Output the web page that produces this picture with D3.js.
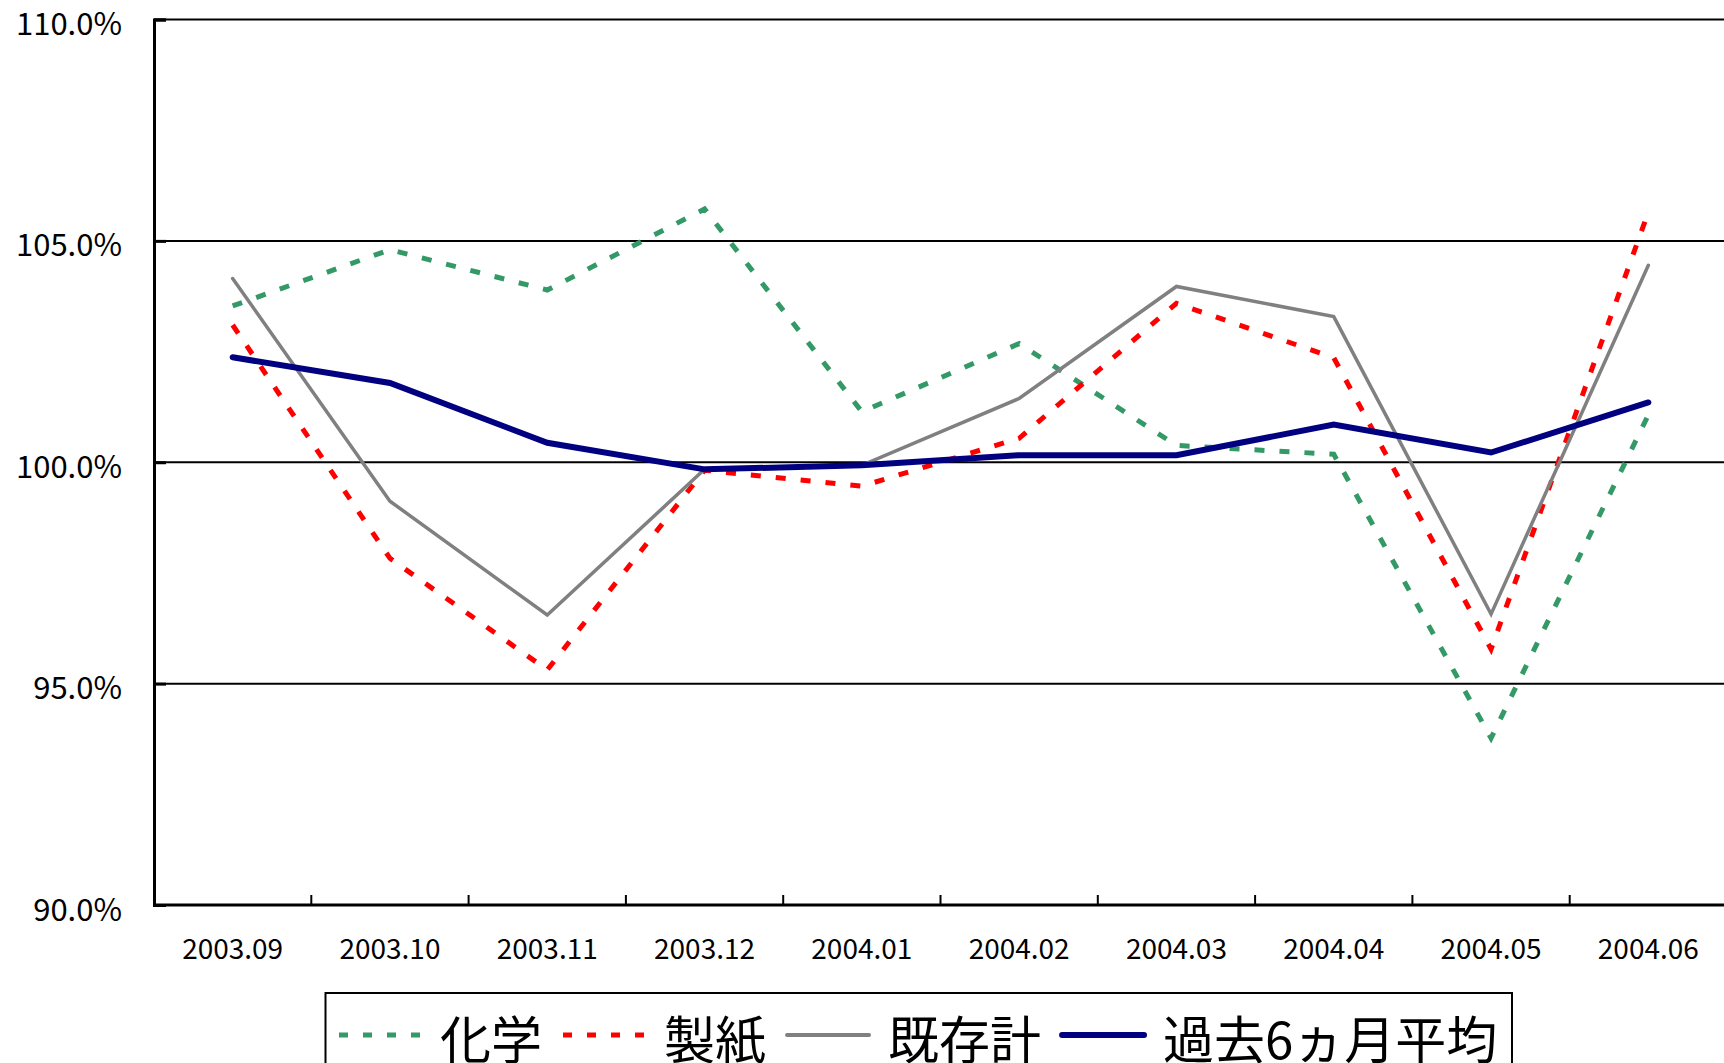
<!DOCTYPE html>
<html>
<head>
<meta charset="utf-8">
<script src="https://cdn.jsdelivr.net/npm/d3@7"></script>
<style>
  html, body { margin: 0; padding: 0; background: #fff; overflow: hidden; }
  svg { display: block; }
  text { font-family: "Noto Sans CJK JP", "Noto Sans", sans-serif; fill: #000; }
</style>
</head>
<body>
<script>
const categories = ["2003.09","2003.10","2003.11","2003.12","2004.01","2004.02","2004.03","2004.04","2004.05","2004.06"];
const chemical = [103.53, 104.80, 103.89, 105.72, 101.14, 102.68, 100.38, 100.18, 93.77, 101.07];
const paper    = [103.10, 97.83, 95.31, 99.82, 99.46, 100.54, 103.59, 102.36, 95.78, 105.65];
const existing = [104.15, 99.12, 96.55, 99.84, 99.93, 101.44, 103.97, 103.29, 96.57, 104.45];
const avg6     = [102.37, 101.79, 100.44, 99.84, 99.93, 100.16, 100.16, 100.85, 100.22, 101.35];
const yTicks = [90, 95, 100, 105, 110];
const seriesNames = ["化学", "製紙", "既存計", "過去6ヵ月平均"];

(function () {
const W = 1724, H = 1063;
const svg = d3.select("body").append("svg").attr("width", W).attr("height", H);

const pLeft = 154, pRight = 1727, pTop = 19.5, pBottom = 905;
const x = d3.scaleBand().domain(categories).range([pLeft, pRight]).padding(0);
const y = d3.scaleLinear().domain([90, 110]).range([pBottom, pTop]);
const cx = c => x(c) + x.bandwidth() / 2;

// gridlines
svg.append("g").selectAll("line").data(yTicks.filter(t => t > 90)).join("line")
  .attr("x1", pLeft).attr("x2", W + 10)
  .attr("y1", d => y(d)).attr("y2", d => y(d))
  .attr("stroke", "#000").attr("stroke-width", 2);

// left axis
const yAxis = d3.axisRight(y).tickValues(yTicks).tickSize(12).tickFormat("");
const gy = svg.append("g").attr("transform", `translate(${pLeft},0)`).call(yAxis);
gy.select(".domain").attr("stroke", "#000").attr("stroke-width", 3);
gy.selectAll(".tick line").attr("stroke", "#000").attr("stroke-width", 3);

// y labels
svg.append("g").selectAll("text").data(yTicks).join("text")
  .attr("x", 122).attr("y", d => y(d) + 2)
  .attr("text-anchor", "end").attr("dominant-baseline", "central")
  .style("font-size", "31px")
  .text(d => d.toFixed(1) + "%");

// bottom axis
const bounds = categories.slice(1).map(c => x(c));
svg.append("line").attr("x1", pLeft).attr("x2", W + 10).attr("y1", pBottom).attr("y2", pBottom)
  .attr("stroke", "#000").attr("stroke-width", 3);
svg.append("g").selectAll("line").data(bounds).join("line")
  .attr("x1", d => d).attr("x2", d => d)
  .attr("y1", pBottom).attr("y2", pBottom - 10)
  .attr("stroke", "#000").attr("stroke-width", 2);

svg.append("g").selectAll("text").data(categories).join("text")
  .attr("x", d => cx(d)).attr("y", 947)
  .attr("text-anchor", "middle").attr("dominant-baseline", "central")
  .style("font-size", "28px")
  .text(d => d);

// series
const series = [
  { name: seriesNames[0], values: chemical, color: "#339966", width: 5, dash: "10,15" },
  { name: seriesNames[1], values: paper,    color: "#FF0000", width: 5, dash: "10,15" },
  { name: seriesNames[2], values: existing, color: "#808080", width: 3.5, dash: null },
  { name: seriesNames[3], values: avg6,     color: "#000080", width: 6, dash: null }
];

const line = d3.line().x((d, i) => cx(categories[i])).y(d => y(d));
series.forEach(s => {
  svg.append("path").datum(s.values)
    .attr("d", line)
    .attr("fill", "none")
    .attr("stroke", s.color)
    .attr("stroke-width", s.width)
    .attr("stroke-linejoin", "miter")
    .attr("stroke-linecap", s.dash ? "butt" : "round")
    .attr("stroke-dasharray", s.dash);
});

// legend
const lg = svg.append("g");
lg.append("rect").attr("x", 325.5).attr("y", 993).attr("width", 1512 - 325.5).attr("height", 120)
  .attr("fill", "#fff").attr("stroke", "#000").attr("stroke-width", 2);
let lx = 339;
const ly = 1035;
series.forEach(s => {
  lg.append("line").attr("x1", lx).attr("x2", lx + 82).attr("y1", ly).attr("y2", ly)
    .attr("stroke", s.color).attr("stroke-width", s.dash ? 5 : (s.width < 5 ? 4 : 6))
    .attr("stroke-dasharray", s.dash ? "9,15" : null)
    .attr("stroke-linecap", s.dash ? "butt" : "round");
  lx += 82 + 19;
  const t = lg.append("text").attr("x", lx).attr("y", ly + 2)
    .attr("dominant-baseline", "central")
    .style("font-size", "51px")
    .text(s.name);
  lx += t.node().getComputedTextLength() + 21;
});
})();
</script>
</body>
</html>
